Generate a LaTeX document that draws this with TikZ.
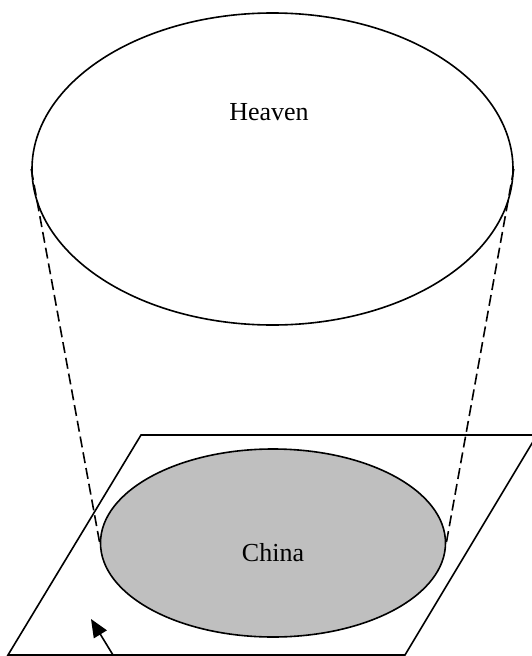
\documentclass[tikz,border=0pt]{standalone}
\usepackage{fontspec}
\setmainfont{Liberation Serif}
\usetikzlibrary{shapes.geometric, arrows.meta}
\tikzset{
  sky/.style={ellipse, draw=black, line width=1.6pt, fill=white,
              minimum width=481pt, minimum height=312pt, inner sep=0pt},
  land/.style={ellipse, draw=black, line width=1.6pt, fill=gray!50,
               minimum width=345pt, minimum height=188pt, inner sep=0pt},
  lbl/.style={font=\fontsize{26}{30}\selectfont, inner sep=0pt},
  proj/.style={line width=1.6pt, dash pattern=on 11pt off 5pt},
  plane/.style={line width=1.6pt, line join=miter},
  arr/.style={-{Triangle[length=18pt, width=15pt]}, line width=1.6pt},
}
\begin{document}
\begin{tikzpicture}[x=1pt, y=-1pt]
  \useasboundingbox (0,0) rectangle (531,656);
  % ground plane
  \draw[plane] (141,435) -- (537,435) -- (405,655) -- (8,655) -- cycle;
  \node[sky]  (heaven) at (272.5,169) {};
  \node[land] (china)  at (273,543)   {};
  \node[lbl] (heavenlbl) at (269,112) {Heaven};
  \node[lbl] (chinalbl)  at (273,553) {China};
  % projection lines
  \draw[proj] (heaven.west) -- (china.west);
  \draw[proj] (heaven.east) -- (china.east);
  \coordinate (foot) at (113,655);
  \coordinate (tip)  at (91,619);
  \draw[arr] (foot) -- (tip);
\end{tikzpicture}
\end{document}
